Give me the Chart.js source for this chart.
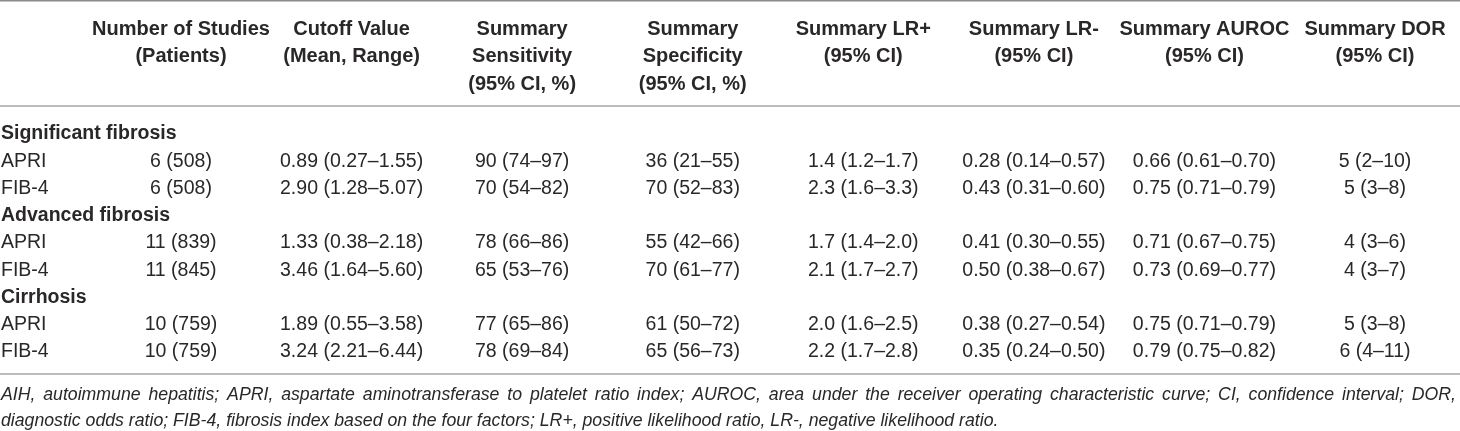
<!DOCTYPE html>
<html>
<head>
<meta charset="utf-8">
<title>APRI and FIB-4 summary</title>
<script src="https://cdn.jsdelivr.net/npm/chart.js@4.4.0/dist/chart.umd.min.js"></script>
<style>
  html, body { margin: 0; padding: 0; background: #fff; }
  #wrap { width: 1460px; height: 431px; }
</style>
</head>
<body>
<div id="wrap"><canvas id="tbl" width="1460" height="431"></canvas></div>
<script>
// row groups and tests (stub column)
var groups = ['Significant fibrosis', 'Advanced fibrosis', 'Cirrhosis'];
var tests = ['APRI', 'FIB-4'];

// column headers, one array of lines per column
var headers = [
  ['Number of Studies', '(Patients)'],
  ['Cutoff Value', '(Mean, Range)'],
  ['Summary', 'Sensitivity', '(95% CI, %)'],
  ['Summary', 'Specificity', '(95% CI, %)'],
  ['Summary LR+', '(95% CI)'],
  ['Summary LR-', '(95% CI)'],
  ['Summary AUROC', '(95% CI)'],
  ['Summary DOR', '(95% CI)']
];

// values, in row order: sig APRI, sig FIB-4, adv APRI, adv FIB-4, cirr APRI, cirr FIB-4
var studies = ['6 (508)', '6 (508)', '11 (839)', '11 (845)', '10 (759)', '10 (759)'];
var cutoff = ['0.89 (0.27–1.55)', '2.90 (1.28–5.07)', '1.33 (0.38–2.18)', '3.46 (1.64–5.60)', '1.89 (0.55–3.58)', '3.24 (2.21–6.44)'];
var sensitivity = ['90 (74–97)', '70 (54–82)', '78 (66–86)', '65 (53–76)', '77 (65–86)', '78 (69–84)'];
var specificity = ['36 (21–55)', '70 (52–83)', '55 (42–66)', '70 (61–77)', '61 (50–72)', '65 (56–73)'];
var lrPos = ['1.4 (1.2–1.7)', '2.3 (1.6–3.3)', '1.7 (1.4–2.0)', '2.1 (1.7–2.7)', '2.0 (1.6–2.5)', '2.2 (1.7–2.8)'];
var lrNeg = ['0.28 (0.14–0.57)', '0.43 (0.31–0.60)', '0.41 (0.30–0.55)', '0.50 (0.38–0.67)', '0.38 (0.27–0.54)', '0.35 (0.24–0.50)'];
var auroc = ['0.66 (0.61–0.70)', '0.75 (0.71–0.79)', '0.71 (0.67–0.75)', '0.73 (0.69–0.77)', '0.75 (0.71–0.79)', '0.79 (0.75–0.82)'];
var dor = ['5 (2–10)', '5 (3–8)', '4 (3–6)', '4 (3–7)', '5 (3–8)', '6 (4–11)'];

var footnote = [
  'AIH, autoimmune hepatitis; APRI, aspartate aminotransferase to platelet ratio index; AUROC, area under the receiver operating characteristic curve; CI, confidence interval; DOR,',
  'diagnostic odds ratio; FIB-4, fibrosis index based on the four factors; LR+, positive likelihood ratio, LR-, negative likelihood ratio.'
];

var columns = [studies, cutoff, sensitivity, specificity, lrPos, lrNeg, auroc, dor];

var FONT = '"Liberation Sans", Arial, Helvetica, sans-serif';
var INK = '#2a2728';
var SIZE = 19.5;
var HEAD_SIZE = 20;
var NOTE_SIZE = 17.7;

// row index on the y scale: group heading, then its tests
function rowOf(i){
  var per = tests.length;
  return Math.floor(i/per)*(per+1)+1+(i%per);
}

var datasets = columns.map(function(vals, c){
  return {
    label: headers[c].join(' '),
    data: vals.map(function(v, i){ return {x: c, y: rowOf(i), text: v}; }),
    pointRadius: 0,
    showLine: false
  };
});

function rule(ctx, y, color, w){
  ctx.strokeStyle = color;
  ctx.lineWidth = w;
  ctx.beginPath();
  ctx.moveTo(0, y);
  ctx.lineTo(1460, y);
  ctx.stroke();
}

var tablePlugin = {
  id: 'tablePlugin',
  afterDatasetsDraw: function(chart){
    var ctx = chart.ctx, xs = chart.scales.x, ys = chart.scales.y;
    ctx.save();

    // rules
    rule(ctx, 0.75, '#8a8a8a', 1.5);
    rule(ctx, 106, '#a6a6a6', 1.5);
    rule(ctx, 374, '#a6a6a6', 1.5);

    ctx.fillStyle = INK;
    ctx.textBaseline = 'middle';

    // header
    ctx.font = 'bold ' + HEAD_SIZE + 'px ' + FONT;
    ctx.textAlign = 'center';
    headers.forEach(function(lines, c){
      lines.forEach(function(t, k){
        ctx.fillText(t, xs.getPixelForValue(c), 29 + k*27.5);
      });
    });

    // stub column
    ctx.textAlign = 'left';
    groups.forEach(function(g, gi){
      var r = gi*(tests.length+1);
      ctx.font = 'bold ' + SIZE + 'px ' + FONT;
      ctx.fillText(g, 1, ys.getPixelForValue(r));
      ctx.font = SIZE + 'px ' + FONT;
      tests.forEach(function(t, ti){
        ctx.fillText(t, 1, ys.getPixelForValue(r+1+ti));
      });
    });

    // cells
    ctx.font = SIZE + 'px ' + FONT;
    ctx.textAlign = 'center';
    chart.data.datasets.forEach(function(ds, di){
      chart.getDatasetMeta(di).data.forEach(function(pt, i){
        ctx.fillText(ds.data[i].text, pt.x, pt.y);
      });
    });

    // footnote, justified except the last line
    ctx.font = 'italic ' + NOTE_SIZE + 'px ' + FONT;
    ctx.textAlign = 'left';
    footnote.forEach(function(line, k){
      var y = 395 + k*26;
      if(k === footnote.length-1){ ctx.fillText(line, 1, y); return; }
      var words = line.split(' ');
      var total = 0;
      words.forEach(function(w){ total += ctx.measureText(w).width; });
      var gap = (1456 - 1 - total)/(words.length-1);
      var x = 1;
      words.forEach(function(w){
        ctx.fillText(w, x, y);
        x += ctx.measureText(w).width + gap;
      });
    });

    ctx.restore();
  }
};

var tableChart = new Chart(document.getElementById('tbl'), {
  type: 'scatter',
  data: { datasets: datasets },
  options: {
    responsive: false,
    animation: false,
    events: [],
    clip: false,
    layout: { padding: { left: 181, right: 85, top: 134, bottom: 79 } },
    plugins: { legend: { display: false }, tooltip: { enabled: false }, title: { display: false } },
    scales: {
      x: { type: 'linear', min: 0, max: columns.length-1, display: false },
      y: { type: 'linear', min: 0, max: groups.length*(tests.length+1)-1, reverse: true, display: false }
    }
  },
  plugins: [tablePlugin]
});
</script>
</body>
</html>
